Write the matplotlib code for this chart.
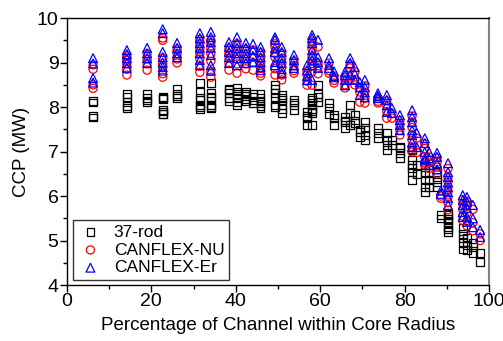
import matplotlib
matplotlib.use("Agg")
import matplotlib.pyplot as plt
from matplotlib.ticker import MultipleLocator

# Column x positions (% of channel within core radius) and values per column
x_cols = [6.2, 14.2, 19.0, 22.7, 26.1, 31.5, 34.1, 38.4, 40.3, 42.4, 44.1, 45.9,
          49.3, 50.9, 53.8, 56.9, 58.1, 59.5, 62.1, 63.3, 65.9, 67.1, 68.2, 69.4,
          70.6, 73.7, 75.8, 77.0, 78.9, 81.8, 82.9, 84.8, 85.8, 87.7, 88.6, 90.3,
          93.8, 94.8, 96.2, 97.9]

rod37 = [
    [8.13, 8.1, 7.8, 7.77],
    [8.3, 8.22, 8.12, 8.02, 7.98],
    [8.3, 8.2, 8.15, 8.1],
    [8.22, 8.2, 8.18, 7.93, 7.85, 7.9, 7.84],
    [8.42, 8.3, 8.25, 8.2],
    [8.54, 8.34, 8.2, 8.16, 8.04, 8.0, 7.96],
    [8.54, 8.31, 8.22, 8.2, 8.05, 8.0, 7.98],
    [8.4, 8.38, 8.31, 8.2, 8.13],
    [8.43, 8.35, 8.29, 8.2, 8.1, 8.04],
    [8.34, 8.3, 8.25, 8.18, 8.13],
    [8.29, 8.22, 8.15, 8.09],
    [8.29, 8.2, 8.13, 8.08, 8.02, 7.98],
    [8.49, 8.4, 8.31, 8.2, 8.05, 8.0],
    [8.27, 8.2, 8.16, 8.04, 7.95, 7.87],
    [8.16, 8.1, 8.04, 7.93],
    [7.89, 7.8, 7.75, 7.6],
    [8.2, 8.16, 8.1, 8.04, 7.95, 7.9, 7.87, 7.6],
    [8.49, 8.3, 8.22, 8.11],
    [8.09, 7.98, 7.84],
    [7.82, 7.75, 7.6],
    [7.78, 7.7, 7.66, 7.53],
    [8.04, 7.87, 7.6],
    [7.82, 7.7, 7.64],
    [7.5, 7.44, 7.33],
    [7.66, 7.53, 7.37, 7.26],
    [7.53, 7.42, 7.3],
    [7.42, 7.26, 7.15, 7.03],
    [7.26, 7.15],
    [7.1, 7.08, 6.97, 6.85],
    [7.05, 7.03, 6.81, 6.7, 6.63, 6.54, 6.36],
    [6.7, 6.5],
    [6.65, 6.52, 6.36, 6.2, 6.09],
    [6.52, 6.36, 6.2],
    [6.54, 6.43, 6.31, 6.2],
    [5.57, 5.5],
    [5.6, 5.57, 5.5, 5.45, 5.39, 5.3, 5.25, 5.19],
    [5.28, 5.15, 5.05, 4.94, 4.8],
    [5.06, 4.9, 4.79],
    [4.94, 4.85, 4.72],
    [4.72, 4.52],
]

canflex_nu = [
    [8.95, 8.85, 8.5, 8.42],
    [9.15, 9.05, 8.97, 8.85, 8.72],
    [9.2, 9.08, 8.97, 8.83],
    [9.55, 9.5, 9.1, 8.98, 8.9, 8.75, 8.67],
    [9.3, 9.2, 9.08, 8.99],
    [9.52, 9.42, 9.3, 9.2, 9.08, 8.92, 8.78],
    [9.5, 9.44, 9.32, 9.2, 9.03, 8.8, 8.67],
    [9.32, 9.2, 9.1, 8.98, 8.83],
    [9.42, 9.3, 9.2, 9.08, 8.97, 8.76],
    [9.3, 9.2, 9.08, 8.97, 8.86],
    [9.28, 9.12, 9.0, 8.83],
    [9.22, 9.1, 8.98, 8.87, 8.76, 8.7],
    [9.42, 9.35, 9.2, 9.12, 8.86, 8.72],
    [9.2, 9.1, 8.97, 8.88, 8.72, 8.61],
    [9.03, 8.93, 8.82, 8.76],
    [8.8, 8.72, 8.58, 8.49],
    [9.48, 9.4, 9.3, 9.14, 9.03, 8.92, 8.8, 8.49],
    [9.35, 8.98, 8.88, 8.75],
    [8.99, 8.82, 8.76],
    [8.68, 8.6, 8.54],
    [8.66, 8.6, 8.5, 8.43],
    [8.95, 8.88, 8.62],
    [8.79, 8.62, 8.5],
    [8.42, 8.34, 8.11],
    [8.48, 8.33, 8.2, 8.09],
    [8.2, 8.13, 8.09],
    [8.14, 8.04, 7.9, 7.75],
    [7.85, 7.75],
    [7.7, 7.6, 7.48, 7.37],
    [7.8, 7.66, 7.54, 7.37, 7.25, 7.1, 6.99],
    [7.3, 6.98],
    [7.18, 7.07, 6.88, 6.74, 6.7],
    [6.88, 6.74, 6.62],
    [6.86, 6.76, 6.65, 6.5],
    [6.0, 5.95],
    [6.62, 6.42, 6.32, 6.2, 6.1, 5.98, 5.85, 5.69],
    [5.92, 5.82, 5.7, 5.55, 5.45],
    [5.88, 5.77, 5.62, 5.43, 5.33],
    [5.7, 5.4, 5.22],
    [5.15, 5.0],
]

canflex_er = [
    [9.1, 8.98, 8.65, 8.55],
    [9.28, 9.19, 9.1, 8.99, 8.88],
    [9.33, 9.21, 9.1, 8.99],
    [9.75, 9.66, 9.24, 9.12, 9.0, 8.9, 8.82],
    [9.44, 9.33, 9.21, 9.12],
    [9.66, 9.55, 9.44, 9.33, 9.21, 9.06, 8.94],
    [9.69, 9.57, 9.46, 9.33, 9.17, 8.94, 8.82],
    [9.46, 9.35, 9.24, 9.12, 8.99],
    [9.57, 9.44, 9.33, 9.21, 9.1, 8.94],
    [9.44, 9.33, 9.21, 9.1, 8.99],
    [9.42, 9.28, 9.15, 9.01],
    [9.35, 9.24, 9.12, 9.01, 8.9, 8.83],
    [9.57, 9.51, 9.33, 9.24, 9.01, 8.94],
    [9.35, 9.24, 9.1, 8.99, 8.85, 8.76],
    [9.17, 9.06, 8.94, 8.88],
    [8.94, 8.83, 8.7, 8.61],
    [9.62, 9.55, 9.44, 9.28, 9.17, 9.06, 8.94, 8.61],
    [9.51, 9.12, 9.01, 8.88],
    [9.1, 8.95, 8.88],
    [8.8, 8.7, 8.67],
    [8.79, 8.72, 8.61, 8.49],
    [9.1, 8.99, 8.72],
    [8.9, 8.75, 8.61],
    [8.56, 8.45, 8.27],
    [8.61, 8.45, 8.33, 8.22],
    [8.31, 8.25, 8.2],
    [8.27, 8.16, 8.04, 7.89],
    [7.98, 7.87],
    [7.82, 7.71, 7.6, 7.48],
    [7.93, 7.78, 7.66, 7.48, 7.37, 7.21, 7.1],
    [7.42, 7.1],
    [7.3, 7.19, 6.99, 6.85, 6.8],
    [6.99, 6.85, 6.7],
    [6.97, 6.88, 6.74, 6.6],
    [6.12, 6.05],
    [6.74, 6.54, 6.43, 6.31, 6.2, 6.09, 5.96, 5.8],
    [6.02, 5.91, 5.8, 5.64, 5.53],
    [5.98, 5.87, 5.73, 5.53, 5.42],
    [5.8, 5.5, 5.3],
    [5.24, 5.08],
]

series_names = ["37-rod", "CANFLEX-NU", "CANFLEX-Er"]

def flatten(cols):
    xs, ys = [], []
    for xv, vals in zip(x_cols, cols):
        for v in vals:
            xs.append(xv)
            ys.append(v)
    return xs, ys

plt.rcParams['font.family'] = ['Liberation Sans', 'DejaVu Sans']

fig = plt.figure(figsize=(5.03, 3.41), dpi=100)
ax = fig.add_axes([0.133, 0.164, 0.839, 0.783])

styles = [
    dict(marker='s', edgecolor='black', s=30),
    dict(marker='o', edgecolor='red', s=34),
    dict(marker='^', edgecolor='blue', s=40),
]
for name, data, st in zip(series_names, [rod37, canflex_nu, canflex_er], styles):
    xs, ys = flatten(data)
    ax.scatter(xs, ys, facecolor='none', linewidths=0.9, label=name, **st)

ax.set_xlim(0, 100)
ax.set_ylim(4, 10)
ax.xaxis.set_major_locator(MultipleLocator(20))
ax.xaxis.set_minor_locator(MultipleLocator(10))
ax.yaxis.set_major_locator(MultipleLocator(1))
ax.yaxis.set_minor_locator(MultipleLocator(0.5))
ax.tick_params(axis='both', which='major', direction='out', length=5, width=1, labelsize=14, pad=1)
ax.tick_params(axis='both', which='minor', direction='out', length=3, width=1)
for side in ['left', 'bottom', 'top']:
    ax.spines[side].set_linewidth(1.0)
ax.spines['right'].set_color('#808080')
ax.spines['right'].set_linewidth(1.5)

ax.set_xlabel("Percentage of Channel within Core Radius", fontsize=13.5, labelpad=5)
ax.set_ylabel("CCP (MW)", fontsize=13.5, labelpad=5)

leg = ax.legend(loc='lower left', fontsize=12.5, frameon=True, fancybox=False,
                edgecolor='black', handletextpad=0.6,
                borderpad=0.25, labelspacing=0.15, handlelength=1.5, scatterpoints=1,
                bbox_to_anchor=(-0.006, -0.012))
leg.get_frame().set_linewidth(1.0)

fig.savefig("out.png", dpi=100)
